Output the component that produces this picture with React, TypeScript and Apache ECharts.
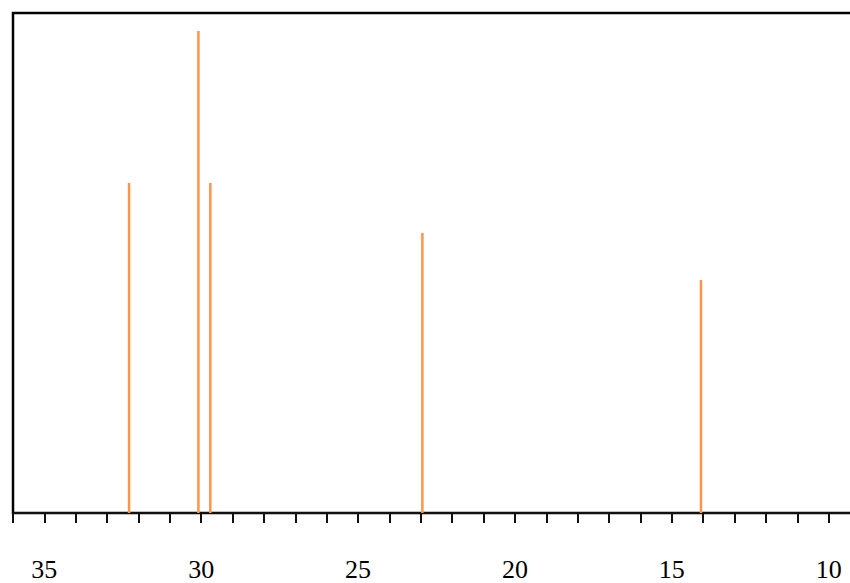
import React, { useEffect, useRef } from "react";
import * as echarts from "echarts";

// chemical shifts (ppm) and relative intensities
const shifts = [32.3, 30.09, 29.71, 22.95, 14.07];
const intensities = [66, 96.4, 66, 56, 46.6];
const xMin = 9;
const xMax = 36;

export default function App() {
  const ref = useRef<HTMLDivElement>(null);
  useEffect(() => {
    document.body.style.margin = "0";
    document.body.style.overflow = "hidden";
    const chart = echarts.init(ref.current!, null, { renderer: "svg" });
    chart.setOption({
      animation: false,
      backgroundColor: "#ffffff",
      textStyle: { fontFamily: "Liberation Serif" },
      grid: {
        left: 13,
        top: 13,
        right: 10,
        bottom: 70,
        show: true,
        borderColor: "#000",
        borderWidth: 2.5,
        backgroundColor: "transparent",
      },
      xAxis: {
        type: "value",
        inverse: true,
        min: xMin,
        max: xMax,
        interval: 1,
        splitLine: { show: false },
        axisLine: { show: true, lineStyle: { color: "#111", width: 2 } },
        axisTick: { show: true, inside: false, length: 10, lineStyle: { color: "#111", width: 2 } },
        axisLabel: {
          margin: 43,
          fontFamily: "Liberation Serif",
          fontSize: 26,
          color: "#000",
          formatter: (v: number) => (v % 5 === 0 ? String(v) : ""),
        },
      },
      yAxis: {
        type: "value",
        min: 0,
        max: 100,
        show: false,
      },
      series: [
        {
          type: "bar",
          barWidth: 2.5,
          itemStyle: { color: "#FF944A" },
          data: shifts.map((s, i) => [s, intensities[i]]),
        },
      ],
    });
    return () => chart.dispose();
  }, []);
  return (
    <div style={{ width: 850, height: 583, overflow: "hidden" }}>
      <div ref={ref} style={{ width: 870, height: 583 }} />
    </div>
  );
}
